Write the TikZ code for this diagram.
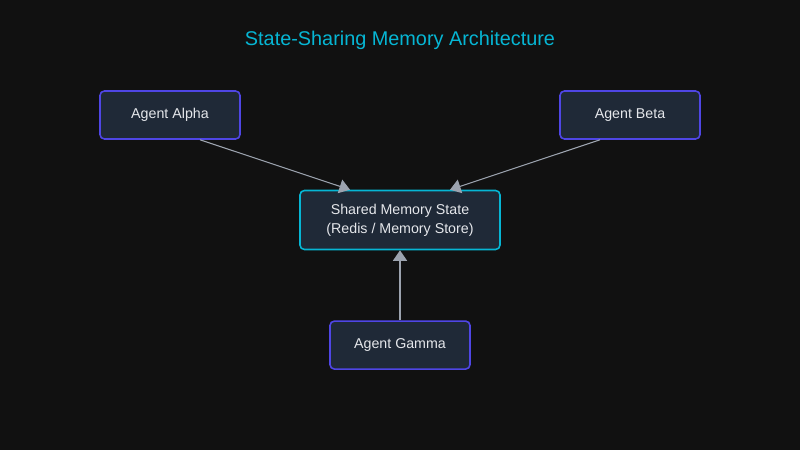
\documentclass[tikz,border=0pt]{standalone}
\usepackage{fontspec}
\setmainfont{Liberation Sans}
\usepackage{xcolor}
\definecolor{PageBg}{HTML}{111111}
\definecolor{BoxFill}{HTML}{1F2937}
\definecolor{AgentEdge}{HTML}{4F46E5}
\definecolor{MemCyan}{HTML}{06B6D4}
\definecolor{LinkGray}{HTML}{9CA3AF}
\definecolor{LabelText}{HTML}{E5E7EB}
\usetikzlibrary{arrows.meta,positioning}

\begin{document}
\begin{tikzpicture}[>=Latex,every node/.style={font=\fontsize{8.1}{10.8}\selectfont, align=center, text=LabelText}, agentbox/.style={draw=AgentEdge, fill=BoxFill, line width=0.9pt, rounded corners=2.5pt, minimum width=2.8cm, minimum height=0.96cm, inner sep=2pt}, memorybox/.style={agentbox, draw=MemCyan, minimum width=4cm, minimum height=1.18cm}, link/.style={-{Triangle[length=6pt,width=8pt]}, line width=0.6pt, LinkGray}]
        \fill[PageBg] (0,0) rectangle (16,-9);
        \useasboundingbox (0,0) rectangle (16,-9);
        \node[font=\fontsize{11.3}{13}\selectfont, text=MemCyan] (title) at (8,-0.8) {State-Sharing Memory Architecture};
        \node[memorybox] (shared) at (8,-4.4) {Shared Memory State\\ (Redis / Memory Store)};
        \node[agentbox] (alpha) at (3.4,-2.3) {Agent Alpha};
        \node[agentbox] (beta) at (12.6,-2.3) {Agent Beta};
        \node[agentbox, below=1.4cm of shared] (gamma) {Agent Gamma};

        \draw[link] ([xshift=0.6cm]alpha.south) -- ([xshift=-1cm]shared.north);
        \draw[link] ([xshift=-0.6cm]beta.south) -- ([xshift=1cm]shared.north);
        \draw[link, line width=0.8pt] (gamma) -- (shared);
    \end{tikzpicture}
\end{document}
